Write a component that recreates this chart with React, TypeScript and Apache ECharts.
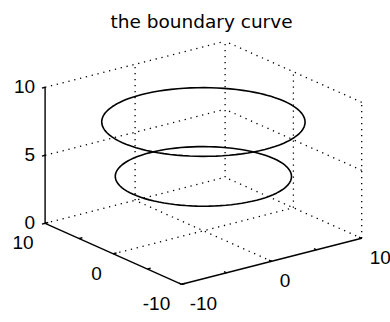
import React, { useEffect, useRef } from "react";
import * as echarts from "echarts";

// ---- data ----
const titleText = "the boundary curve";
const axisMin = -10;
const axisMax = 10;
const zMin = 0;
const zMax = 10;
const xTickLabels = [-10, 0, 10];
const yTickLabels = [10, 0, -10];
const zTickLabels = [0, 5, 10];
const xyTickMarks = [-10, -5, 0, 5, 10];
const zTickMarks = [0, 5, 10];
const xGridLines = [0, 10];
const yGridLines = [-10, 0, 10];
const zGridLines = [0, 5, 10];
const ringHeights = [4, 8];
const ringRadii = [7.8, 9];
const ringSamples = 96;

// ---- camera (screen units per data unit, v upward) ----
const EX = [9.0, 2.3];
const EY = [-6.83, 3.05];
const EZ = [0, 13.6];
const ORIGIN_PX = [203.4, 230.8];
const W = 390;
const H = 322;

function P(x: number, y: number, z: number): [number, number] {
  return [x * EX[0] + y * EY[0] + z * EZ[0], x * EX[1] + y * EY[1] + z * EZ[1]];
}

function seg(a: [number, number, number], b: [number, number, number]) {
  const p = P(a[0], a[1], a[2]);
  const q = P(b[0], b[1], b[2]);
  return [p[0], p[1], q[0], q[1]];
}

function buildDotted() {
  const s: number[][] = [];
  // wall y = axisMax
  for (const x of xGridLines) s.push(seg([x, axisMax, zMin], [x, axisMax, zMax]));
  for (const z of zGridLines) s.push(seg([axisMin, axisMax, z], [axisMax, axisMax, z]));
  // wall x = axisMax
  for (const y of yGridLines) if (y !== axisMax) s.push(seg([axisMax, y, zMin], [axisMax, y, zMax]));
  for (const z of zGridLines) s.push(seg([axisMax, axisMin, z], [axisMax, axisMax, z]));
  // floor
  s.push(seg([0, axisMin, zMin], [0, axisMax, zMin]));
  s.push(seg([axisMin, 0, zMin], [axisMax, 0, zMin]));
  return s;
}

function buildSolid() {
  const s: number[][] = [];
  s.push(seg([axisMin, axisMin, zMin], [axisMax, axisMin, zMin])); // x axis
  s.push(seg([axisMin, axisMin, zMin], [axisMin, axisMax, zMin])); // y axis
  s.push(seg([axisMin, axisMax, zMin], [axisMin, axisMax, zMax])); // z axis
  for (const x of xyTickMarks) s.push(seg([x, axisMin, zMin], [x, axisMin + 0.4, zMin]));
  for (const y of xyTickMarks) s.push(seg([axisMin, y, zMin], [axisMin + 0.35, y, zMin]));
  for (const z of zTickMarks) s.push(seg([axisMin, axisMax, z], [axisMin - 0.35, axisMax, z]));
  return s;
}

function buildRing(r: number, h: number) {
  const pts: number[][] = [];
  for (let i = 0; i <= ringSamples; i++) {
    const t = (i / ringSamples) * Math.PI * 2;
    pts.push(P(r * Math.cos(t), r * Math.sin(t), h));
  }
  return pts;
}

const segRender = (width: number, dash: number[] | null, color: string) =>
  (params: any, api: any) => {
    const a = api.coord([api.value(0), api.value(1)]);
    const b = api.coord([api.value(2), api.value(3)]);
    return {
      type: "line",
      shape: { x1: a[0], y1: a[1], x2: b[0], y2: b[1] },
      style: { stroke: color, lineWidth: width, lineDash: dash || undefined, lineCap: "butt" },
      silent: true,
    };
  };

const labelRender = (dx: number, dy: number, align: string) =>
  (params: any, api: any) => {
    const a = api.coord([api.value(0), api.value(1)]);
    return {
      type: "text",
      x: a[0] + dx,
      y: a[1] + dy,
      style: {
        text: String(api.value(2)),
        fill: "#000",
        font: "19px 'Liberation Sans', Arial, sans-serif",
        align,
        verticalAlign: "middle",
      },
      silent: true,
    };
  };

export default function App() {
  const ref = useRef<HTMLDivElement>(null);
  useEffect(() => {
    if (!ref.current) return;
    const chart = echarts.init(ref.current, null, { renderer: "svg" });
    const xLab = xTickLabels.map((x) => [...P(x, axisMin, zMin), x]);
    const yLab = yTickLabels.map((y) => [...P(axisMin, y, zMin), y]);
    const zLab = zTickLabels.map((z) => [...P(axisMin, axisMax, z), z]);
    chart.setOption({
      animation: false,
      backgroundColor: "#fff",
      title: {
        text: titleText,
        left: 196.5,
        top: 7,
        textAlign: "center",
        textStyle: { fontFamily: "'DejaVu Sans', sans-serif", fontSize: 18.5, fontWeight: "normal", color: "#000" },
      },
      grid: { left: 0, top: 0, width: W, height: H, containLabel: false },
      xAxis: { type: "value", min: -ORIGIN_PX[0], max: W - ORIGIN_PX[0], show: false },
      yAxis: { type: "value", min: -(H - ORIGIN_PX[1]), max: ORIGIN_PX[1], show: false },
      series: [
        {
          type: "custom",
          renderItem: segRender(1.3, [1.3, 4.7], "#000"),
          data: buildDotted(),
          encode: { x: [0, 2], y: [1, 3] },
          clip: false,
        },
        {
          type: "custom",
          renderItem: segRender(1.4, null, "#000"),
          data: buildSolid(),
          encode: { x: [0, 2], y: [1, 3] },
          clip: false,
        },
        ...ringHeights.map((h, i) => ({
          type: "line",
          data: buildRing(ringRadii[i], h),
          showSymbol: false,
          symbol: "none",
          lineStyle: { color: "#000", width: 1.6 },
          clip: false,
        })),
        {
          type: "custom",
          renderItem: labelRender(-10, -1, "right"),
          data: zLab,
          encode: { x: 0, y: 1 },
          clip: false,
        },
        {
          type: "custom",
          renderItem: labelRender(-11.5, 19.5, "right"),
          data: yLab,
          encode: { x: 0, y: 1 },
          clip: false,
        },
        {
          type: "custom",
          renderItem: labelRender(8, 19.5, "left"),
          data: xLab,
          encode: { x: 0, y: 1 },
          clip: false,
        },
      ],
    });
    return () => chart.dispose();
  }, []);
  return <div ref={ref} style={{ position: "absolute", left: 0, top: 0, width: W, height: H }} />;
}
